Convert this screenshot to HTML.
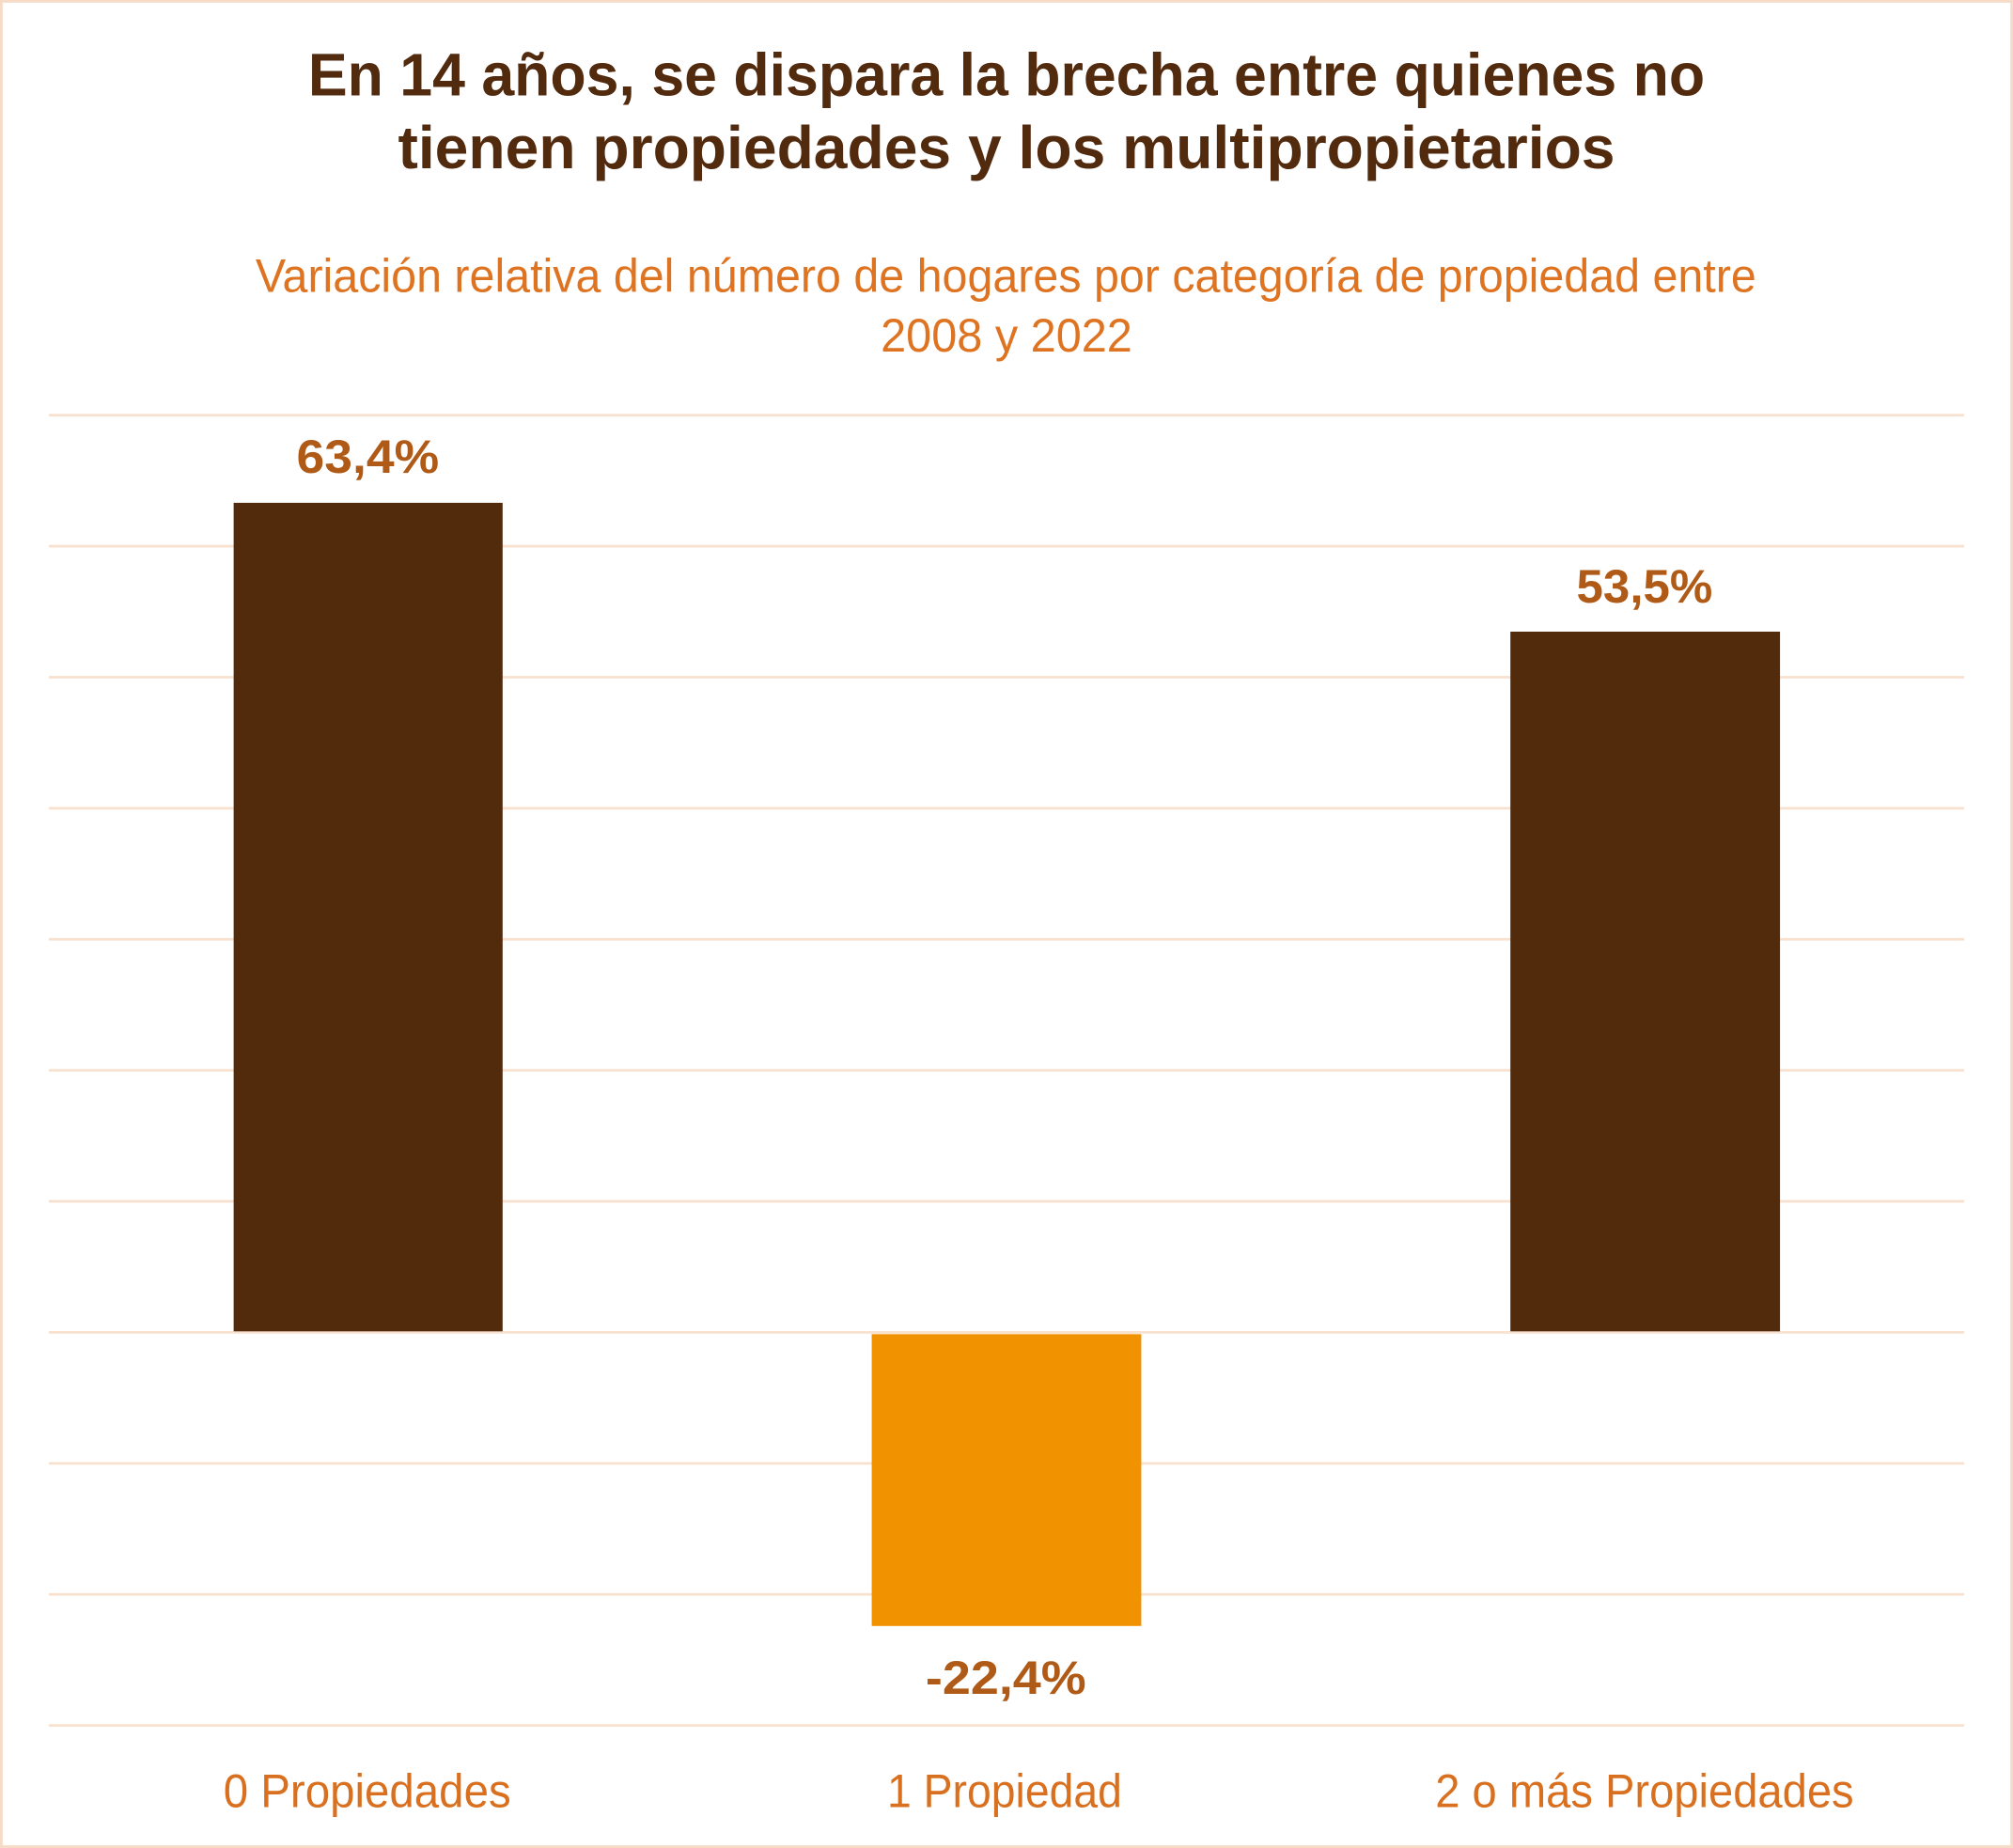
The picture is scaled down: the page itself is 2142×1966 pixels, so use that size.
<!DOCTYPE html>
<html><head><meta charset="utf-8"><style>
html,body{margin:0;padding:0;background:#fff;}
svg{display:block;}
</style></head><body>
<svg width="2142" height="1966" viewBox="0 0 1568 1440" preserveAspectRatio="none" xmlns="http://www.w3.org/2000/svg">
<rect x="0" y="0" width="1568" height="1440" fill="#fff"/>
<rect x="1" y="1" width="1566" height="1438" fill="none" stroke="#f6dcc6" stroke-width="2.2"/>
<g font-family="'Liberation Sans', sans-serif">
<text x="240" y="74.5" font-size="47" font-weight="bold" fill="#522a0e" textLength="1088" lengthAdjust="spacingAndGlyphs">En 14 años, se dispara la brecha entre quienes no</text>
<text x="310" y="131" font-size="47" font-weight="bold" fill="#522a0e" textLength="948" lengthAdjust="spacingAndGlyphs">tienen propiedades y los multipropietarios</text>
<text x="199" y="227.5" font-size="37" fill="#de7422" textLength="1169" lengthAdjust="spacingAndGlyphs">Variación relativa del número de hogares por categoría de propiedad entre</text>
<text x="686" y="274" font-size="37" fill="#de7422" textLength="196" lengthAdjust="spacingAndGlyphs">2008 y 2022</text>
</g>
<g fill="#f8e1cf">
<rect x="38" y="322.5" width="1492" height="2"/>
<rect x="38" y="424.6" width="1492" height="2"/>
<rect x="38" y="526.7" width="1492" height="2"/>
<rect x="38" y="628.8" width="1492" height="2"/>
<rect x="38" y="730.9" width="1492" height="2"/>
<rect x="38" y="833" width="1492" height="2"/>
<rect x="38" y="935.1" width="1492" height="2"/>
<rect x="38" y="1037.2" width="1492" height="2"/>
<rect x="38" y="1139.3" width="1492" height="2"/>
<rect x="38" y="1241.4" width="1492" height="2"/>
<rect x="38" y="1343.5" width="1492" height="2"/>
</g>
<rect x="182" y="391.8" width="209.5" height="645.6" fill="#522a0c"/>
<rect x="1176.5" y="492.2" width="210" height="545.2" fill="#522a0c"/>
<rect x="679" y="1039.6" width="210" height="227.4" fill="#f19300"/>
<g font-family="'Liberation Sans', sans-serif" font-weight="bold" fill="#b05a17" font-size="37">
<text x="231" y="368.5" textLength="111" lengthAdjust="spacingAndGlyphs">63,4%</text>
<text x="1228" y="469.5" textLength="106" lengthAdjust="spacingAndGlyphs">53,5%</text>
<text x="721" y="1320" textLength="125" lengthAdjust="spacingAndGlyphs">-22,4%</text>
</g>
<g font-family="'Liberation Sans', sans-serif" fill="#d9701f" font-size="37">
<text x="174" y="1408" textLength="224" lengthAdjust="spacingAndGlyphs">0 Propiedades</text>
<text x="691" y="1408" textLength="183" lengthAdjust="spacingAndGlyphs">1 Propiedad</text>
<text x="1118" y="1408" textLength="326" lengthAdjust="spacingAndGlyphs">2 o más Propiedades</text>
</g>
</svg>
</body></html>
